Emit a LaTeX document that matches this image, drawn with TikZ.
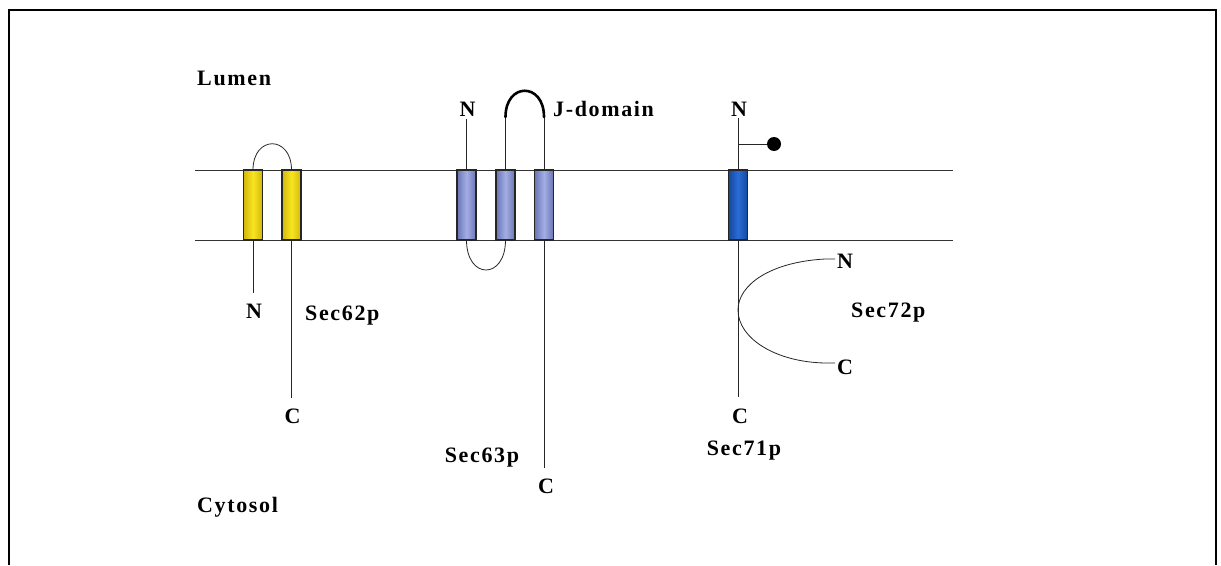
\documentclass[tikz,border=0pt]{standalone}
\usepackage{fontspec}
\setmainfont{Liberation Serif}[LetterSpace=7.5]
\definecolor{yelMid}{HTML}{F8E51E}
\definecolor{yelEdge}{HTML}{D2B60E}
\definecolor{lavMid}{HTML}{A3AEE6}
\definecolor{lavEdge}{HTML}{6A74B2}
\definecolor{bluMid}{HTML}{2A6CD6}
\definecolor{bluEdge}{HTML}{16489E}
\tikzset{
  membrane/.style={line width=0.9pt, black!80},
  chain/.style={line width=0.8pt, black!85},
  jloop/.style={line width=2.6pt, black, line cap=round},
  helixbox/.style={draw=black!85, line width=1.1pt, minimum width=19pt,
    minimum height=70pt, inner sep=0pt, outer sep=0pt},
  yhelix/.style={helixbox, left color=yelEdge, right color=yelEdge, middle color=yelMid},
  lhelix/.style={helixbox, left color=lavEdge, right color=lavEdge, middle color=lavMid},
  bhelix/.style={helixbox, left color=bluEdge, right color=bluEdge, middle color=bluMid},
  lbl/.style={font=\bfseries\fontsize{22}{22}\selectfont, inner sep=0pt, anchor=base},
  lblw/.style={lbl, anchor=base west},
}
\begin{document}
\begin{tikzpicture}[x=1pt, y=-1pt]
\useasboundingbox (0,0) rectangle (1221,565);

% frame
\draw[line width=2pt] (8.5,565) -- (8.5,10) -- (1216,10) -- (1216,565);

% membrane
\coordinate (mtl) at (195,170);
\coordinate (mtr) at (953,170);
\coordinate (mbl) at (195,240);
\coordinate (mbr) at (953,240);
\draw[membrane] (mtl) -- (mtr);
\draw[membrane] (mbl) -- (mbr);

% compartment labels
\node[lblw] (lumen) at (197,85) {Lumen};
\node[lblw] (cytosol) at (197,512) {Cytosol};

% ---- Sec62p ----
\node[yhelix] (y1) at (253,205) {};
\node[yhelix] (y2) at (291.5,205) {};
\draw[chain] (y1.north) .. controls +(0,-35) and +(0,-35) .. (y2.north);
\node[lbl] (y1n) at (254,318) {N};
\node[lbl] (y2c) at (292.5,423) {C};
\coordinate (y1e) at (253,293);
\coordinate (y2e) at (291.5,398);
\draw[chain] (y1.south) -- (y1e);
\draw[chain] (y2.south) -- (y2e);
\node[lblw] (sec62) at (305,320) {Sec62p};

% ---- Sec63p ----
\node[lhelix] (l1) at (466.5,205) {};
\node[lhelix] (l2) at (505.5,205) {};
\node[lhelix] (l3) at (544,205) {};
\node[lbl] (l1n) at (467.5,116) {N};
\coordinate (l1e) at (466.5,119);
\draw[chain] (l1.north) -- (l1e);
\draw[chain] (l1.south) .. controls +(0,40) and +(0,40) .. (l2.south);
\coordinate (j1) at (505.5,117);
\coordinate (j2) at (544,117);
\draw[chain] (l2.north) -- (j1);
\draw[chain] (l3.north) -- (j2);
\draw[jloop] (j1) .. controls +(0,-35) and +(0,-35) .. (j2);
\node[lblw] (jdom) at (553,116) {J-domain};
\coordinate (l3e) at (544,468);
\draw[chain] (l3.south) -- (l3e);
\node[lbl] (l3c) at (546,493) {C};
\node[lbl] (sec63) at (482,462) {Sec63p};

% ---- Sec71p ----
\node[bhelix] (b1) at (738,205) {};
\node[lbl] (b1n) at (739,116) {N};
\coordinate (b1e) at (738,118);
\draw[chain] (b1.north) -- (b1e);
\coordinate (anchorLip) at (738,144);
\node[circle, fill=black, minimum size=14pt, inner sep=0pt] (lipid) at (774,144) {};
\draw[chain] (anchorLip) -- (lipid);
\coordinate (b1s) at (738,397);
\draw[chain] (b1.south) -- (b1s);
\node[lbl] (b1c) at (740,423) {C};
\node[lbl] (sec71) at (744,455) {Sec71p};

% ---- Sec72p ----
\node[lblw] (s72n) at (837,268) {N};
\node[lblw] (s72c) at (837,374) {C};
\coordinate (s72ne) at (835,259);
\coordinate (touch) at (738,310);
\coordinate (s72ce) at (835,363);
\draw[chain] (s72ne) -- (825,259) .. controls (770,262) and (738,285) .. (touch)
  .. controls (738,338) and (775,362) .. (825,363) -- (s72ce);
\node[lblw] (sec72) at (851,317) {Sec72p};
\end{tikzpicture}
\end{document}
